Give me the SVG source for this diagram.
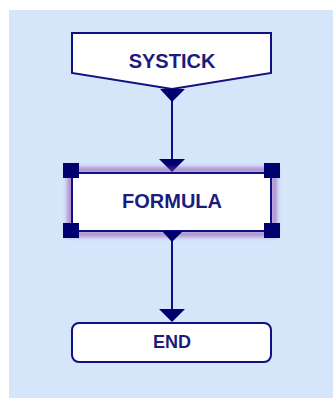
<svg xmlns="http://www.w3.org/2000/svg" width="333" height="398" viewBox="0 0 333 398">
<defs>
<style>
.box{fill:#ffffff;stroke:#101080;stroke-width:2}
.lbl{font-family:"Liberation Sans",Arial,sans-serif;font-weight:bold;font-size:20px;fill:#1c1c7c;text-anchor:middle}
.wire{stroke:#101080;stroke-width:2;fill:none}
.tri{fill:#00006e}
.hdl{fill:#00006e}
</style>
<filter id="glow" x="-10%" y="-20%" width="120%" height="140%">
<feGaussianBlur stdDeviation="2"/>
</filter>
</defs>
<rect x="0" y="0" width="333" height="398" fill="#ffffff"/>
<rect x="9" y="10" width="324" height="388" fill="#d5e5fa"/>
<g id="connectors">
<line class="wire" x1="172" y1="98" x2="172" y2="162"/>
<polygon class="tri" points="159,159 185,159 172,172"/>
<line class="wire" x1="172" y1="240" x2="172" y2="311"/>
<polygon class="tri" points="159,309 185,309 172,322"/>
</g>
<g id="systick">
<polygon class="box" points="72,33 271,33 271,73 172,89 72,73" stroke-width="1.6"/>
<polygon class="tri" points="160,89 185,89 172,102"/>
<text class="lbl" x="172" y="68">SYSTICK</text>
</g>
<g id="formula">
<rect x="70" y="170" width="204" height="64" fill="none" stroke="#8a3aa8" stroke-width="5" opacity="0.6" filter="url(#glow)"/>
<rect class="box" x="72" y="173" width="199" height="58"/>
<polygon class="tri" points="162,231 183,231 172,242"/>
<rect class="hdl" x="63" y="163" width="16" height="15"/>
<rect class="hdl" x="264" y="163" width="16" height="15"/>
<rect class="hdl" x="63" y="223" width="16" height="15"/>
<rect class="hdl" x="264" y="223" width="16" height="15"/>
<text class="lbl" x="172" y="208">FORMULA</text>
</g>
<g id="end">
<rect class="box" x="72" y="323" width="199" height="39" rx="7" ry="7"/>
<text class="lbl" x="172" y="348" font-size="18" style="font-size:18px">END</text>
</g>
</svg>
